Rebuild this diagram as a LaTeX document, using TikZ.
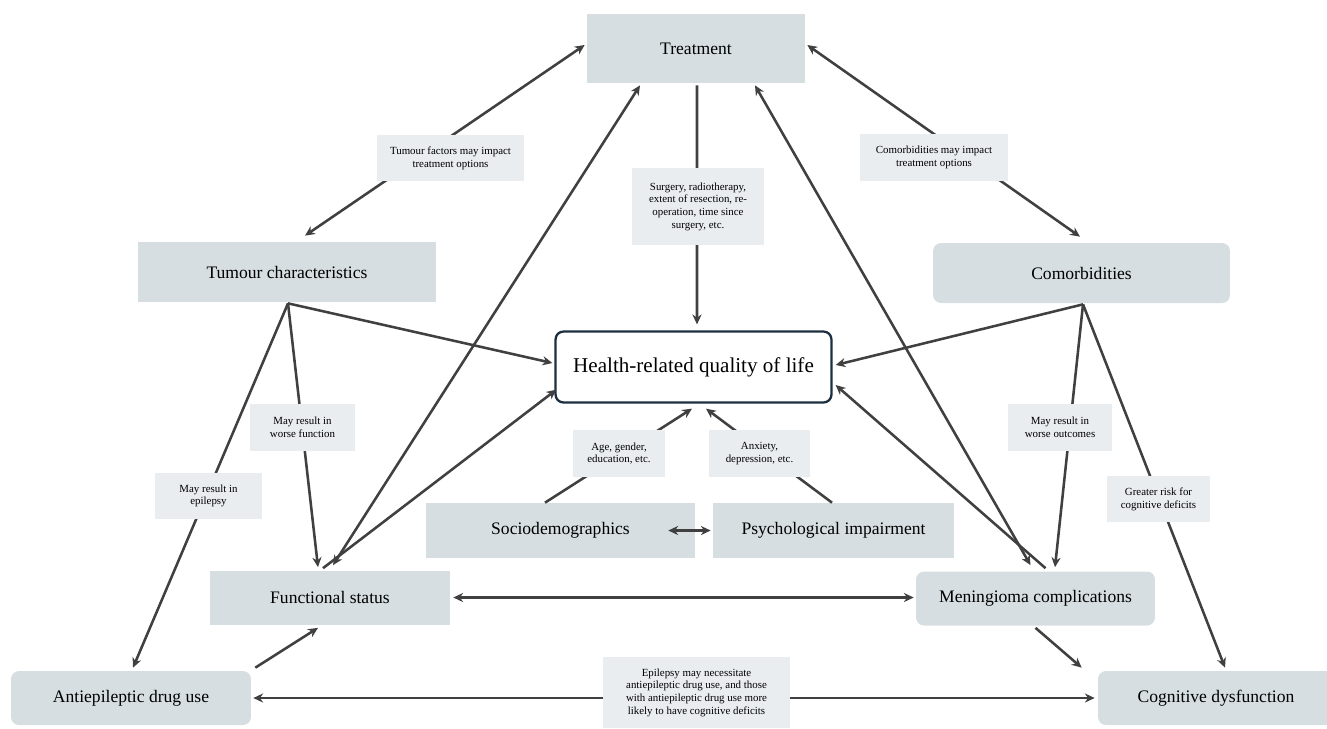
\documentclass[tikz,border=0pt]{standalone}
\usepackage{fontspec}
\setmainfont{Liberation Serif}
\setsansfont{Liberation Serif}
\usetikzlibrary{calc,arrows.meta}
\definecolor{boxfill}{HTML}{D6DEE1}
\definecolor{labfill}{HTML}{E9EDF0}
\definecolor{arr}{HTML}{404040}
\definecolor{navy}{HTML}{1C2F40}
\tikzset{
  every node/.style={font=\rmfamily},
  mainbox/.style={fill=boxfill, draw=none, inner sep=0pt, font=\rmfamily\fontsize{10}{12}\selectfont, align=center},
  roundbox/.style={mainbox, rounded corners=0.16cm},
  lab/.style={fill=labfill, draw=none, inner sep=0pt, font=\rmfamily\fontsize{6.2}{7.2}\selectfont, align=center},
  con/.style={draw=arr, line width=1.45pt, -{Stealth[length=5.6pt,width=5.2pt]}},
  bicon/.style={draw=arr, line width=1.45pt, {Stealth[length=5.6pt,width=5.2pt]}-{Stealth[length=5.6pt,width=5.2pt]}}
}
\begin{document}
\begin{tikzpicture}[x=0.02cm,y=-0.02cm]
\useasboundingbox (0,0) rectangle (1327,728);
% main nodes
\node[mainbox, minimum width=4.36cm, minimum height=1.38cm] (treat) at (696,48.5) {Treatment};
\node[mainbox, minimum width=5.96cm, minimum height=1.2cm] (tum) at (287,272) {Tumour characteristics};
\node[roundbox, minimum width=5.94cm, minimum height=1.2cm] (com) at (1081.5,273) {Comorbidities};
\node[draw=navy, line width=1.3pt, fill=white, rounded corners=0.16cm, inner sep=0pt, minimum width=5.52cm, minimum height=1.42cm, font=\rmfamily\fontsize{12}{14}\selectfont] (hrq) at (693.5,367) {Health-related quality of life};
\node[mainbox, minimum width=5.38cm, minimum height=1.1cm] (soc) at (560.5,530.5) {Sociodemographics};
\node[mainbox, minimum width=4.82cm, minimum height=1.1cm] (psy) at (833.5,530.5) {Psychological impairment};
\node[mainbox, minimum width=4.8cm, minimum height=1.08cm] (fun) at (330,597.5) {Functional status};
\node[roundbox, minimum width=4.78cm, minimum height=1.08cm] (men) at (1035.5,598.5) {Meningioma complications};
\node[roundbox, minimum width=4.8cm, minimum height=1.08cm] (aed) at (131,698) {Antiepileptic drug use};
\node[roundbox, minimum width=4.72cm, minimum height=1.08cm] (cog) at (1216,698) {Cognitive dysfunction};
% connectors
\draw[bicon] ($(treat.west)+(-2,-3.5)$) -- ($(tum.north)+(18,-6)$);
\draw[bicon] ($(treat.east)+(2,-3.5)$) -- ($(com.north)+(-1.5,-6)$);
\draw[con] ($(treat.south)+(1,2)$) -- ($(hrq.north)+(3.5,-6)$);
\draw[con] ($(tum.south)+(1,1)$) -- ($(hrq.west)+(-2,-4)$);
\draw[con] ($(tum.south)+(1,1)$) -- ($(fun.north)+(-12,-3)$);
\draw[con] ($(tum.south)+(1,1)$) -- ($(aed.north)+(2,-3)$);
\draw[bicon] ($(treat.south)+(-56,2)$) -- ($(fun.north)+(3,-5)$);
\draw[con] ($(fun.north)+(-7,-2)$) -- ($(hrq.south west)+(2,-14)$);
\draw[bicon] ($(treat.south)+(59,2)$) -- ($(men.north)+(-5,-6)$);
\draw[con] ($(men.north)+(10,-3)$) -- ($(hrq.east)+(3,18)$);
\draw[con] ($(com.south)+(1.5,1)$) -- ($(hrq.east)+(3,-2)$);
\draw[con] ($(com.south)+(1.5,1)$) -- ($(men.north)+(19.5,-4)$);
\draw[con] ($(com.south)+(1.5,1)$) -- ($(cog.north)+(9,-3)$);
\draw[con] ($(soc.north)+(-15.5,0)$) -- ($(hrq.south)+(-1.5,5)$);
\draw[con] ($(psy.north)+(-1.5,0)$) -- ($(hrq.south)+(12.5,5)$);
\draw[bicon] ($(soc.east)+(-27,0)$) -- ($(psy.west)+(-2,0)$);
\draw[bicon] ($(fun.east)+(3,0)$) -- ($(men.west)+(-2,-1)$);
\draw[con] ($(aed.north east)+(4,-3)$) -- ($(fun.south)+(-12,3)$);
\draw[bicon] ($(aed.east)+(2,0)$) -- ($(cog.west)+(-3,0)$);
\draw[con] ($(men.south)+(0,2)$) -- ($(cog.north west)+(-16,-3)$);
% labels
\node[lab, minimum width=2.94cm, minimum height=0.92cm] (l1) at (450.5,158) {Tumour factors may impact\\treatment options};
\node[lab, minimum width=2.96cm, minimum height=0.94cm] (l2) at (934,157.5) {Comorbidities may impact\\treatment options};
\node[lab, minimum width=2.64cm, minimum height=1.54cm] (l3) at (698,206.5) {Surgery, radiotherapy,\\extent of resection, re-\\operation, time since\\surgery, etc.};
\node[lab, minimum width=2.1cm, minimum height=0.94cm] (l4) at (302.5,427.5) {May result in\\worse function};
\node[lab, minimum width=2.14cm, minimum height=0.92cm] (l5) at (208.5,496) {May result in\\epilepsy};
\node[lab, minimum width=1.84cm, minimum height=0.94cm] (l6) at (619,453.5) {Age, gender,\\education, etc.};
\node[lab, minimum width=2.02cm, minimum height=0.94cm] (l7) at (759.5,453.5) {Anxiety,\\depression, etc.};
\node[lab, minimum width=2.08cm, minimum height=0.94cm] (l8) at (1060,427.5) {May result in\\worse outcomes};
\node[lab, minimum width=2.06cm, minimum height=0.92cm] (l9) at (1158.5,499) {Greater risk for\\cognitive deficits};
\node[lab, minimum width=3.74cm, minimum height=1.42cm] (l10) at (696.5,692.5) {Epilepsy may necessitate\\antiepileptic drug use, and those\\with antiepileptic drug use more\\likely to have cognitive deficits};
\end{tikzpicture}
\end{document}
